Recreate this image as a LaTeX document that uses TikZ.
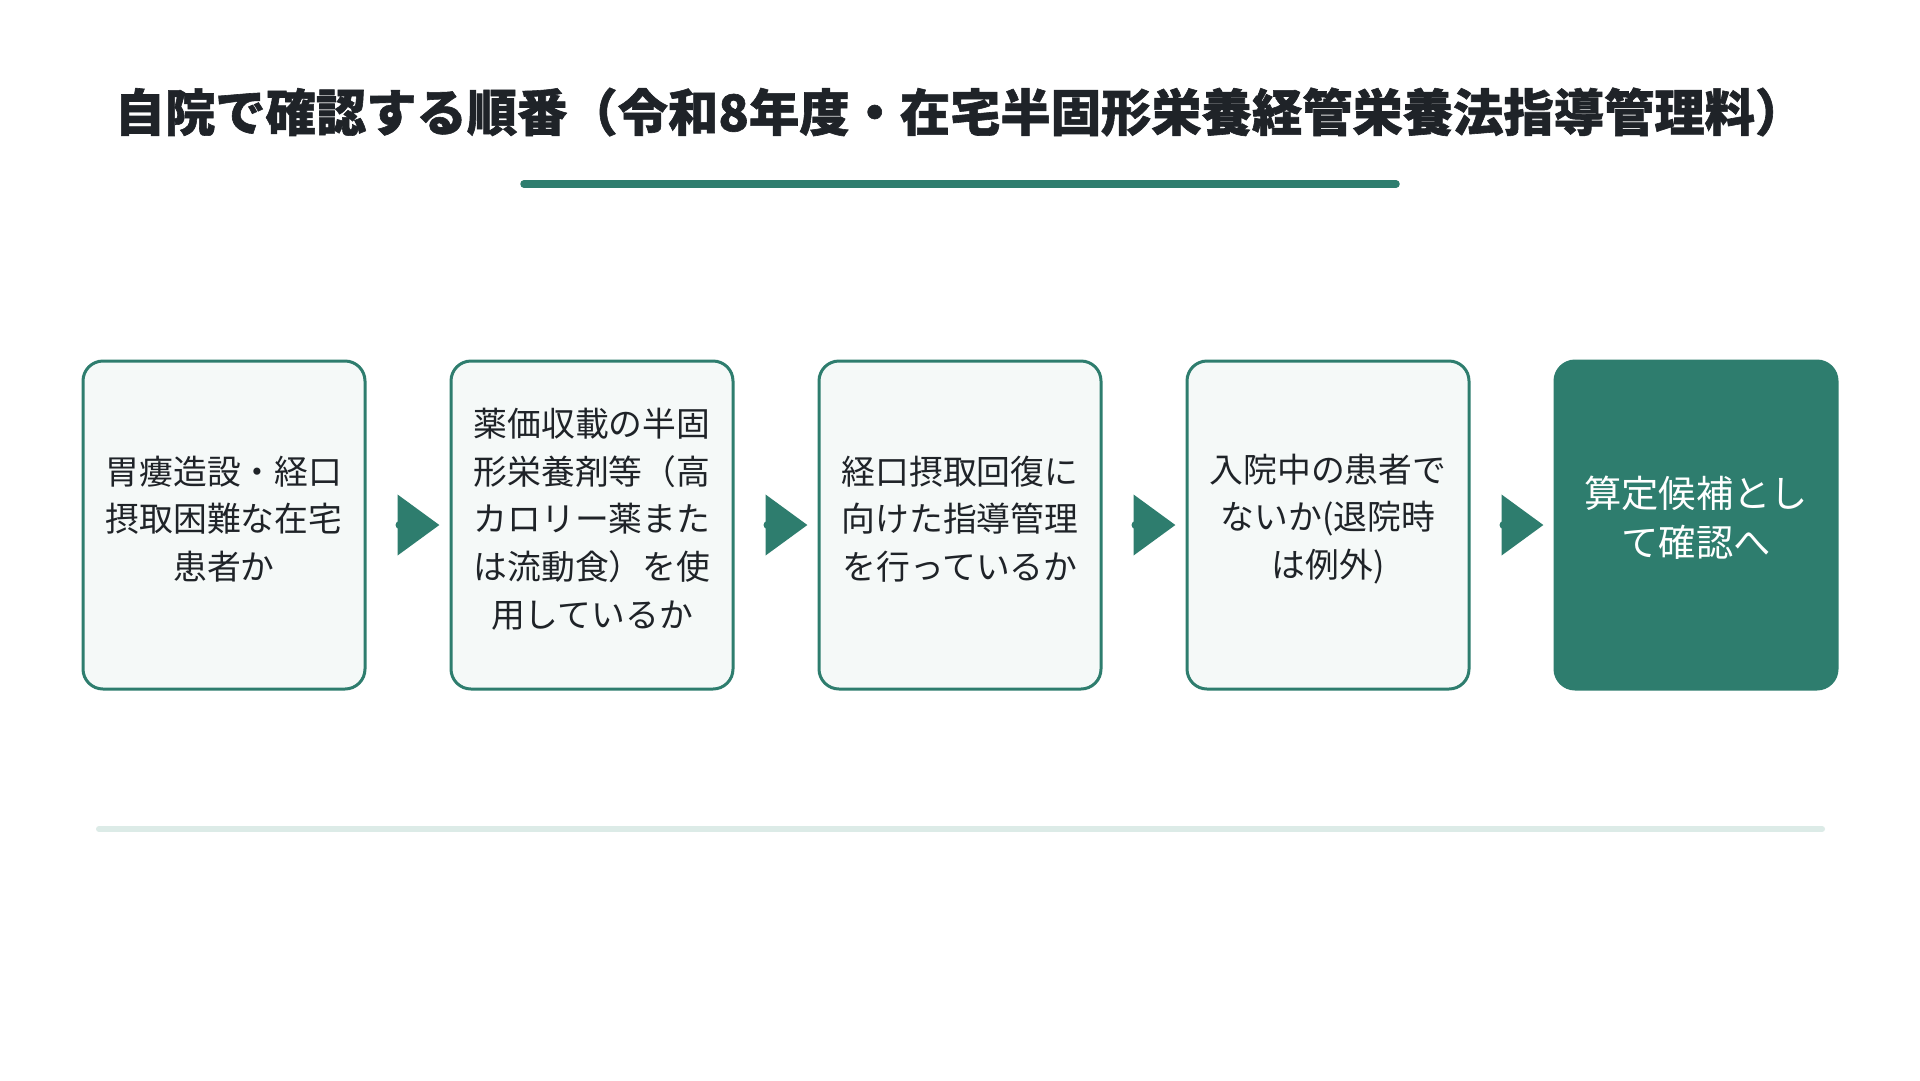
\documentclass[tikz,border=0pt]{standalone}
\usepackage{fontspec}
\setmainfont{Noto Sans CJK JP}
\newfontfamily\cjk{Noto Sans CJK JP}
\newfontfamily\cjktitle[BoldFeatures={FakeBold=1.2}]{Noto Sans CJK JP}
\usetikzlibrary{arrows.meta}
\definecolor{teal}{RGB}{46,125,110}
\definecolor{lightfill}{RGB}{245,249,248}
\definecolor{lightline}{RGB}{220,235,231}
\definecolor{ink}{RGB}{31,35,40}
\tikzset{
  stepbox/.style={draw=teal, line width=3pt, fill=lightfill, rounded corners=20pt,
    minimum width=282pt, minimum height=328pt, inner sep=0pt},
  finalbox/.style={draw=teal, line width=3pt, fill=teal, rounded corners=20pt,
    minimum width=282pt, minimum height=328pt, inner sep=0pt},
  steptext/.style={text=ink, align=center, inner sep=0pt,
    font=\cjk\fontsize{33.8pt}{47.7pt}\selectfont},
  finaltext/.style={text=white, align=center, inner sep=0pt,
    font=\cjk\fontsize{37.3pt}{49pt}\selectfont},
  flowarrow/.style={draw=teal, line width=8pt, line cap=round,
    -{Triangle[length=42pt,width=59pt]}, shorten <=33pt, shorten >=10pt},
  titletext/.style={text=ink, font=\cjktitle\bfseries\fontsize{50.3pt}{60pt}\selectfont, inner sep=0pt},
}
\begin{document}
\begin{tikzpicture}[x=1pt,y=-1pt]
\fill[white] (0,0) rectangle (1920,1080);
\useasboundingbox (0,0) rectangle (1920,1080);

\node[titletext] (title) at (960,112) {自院で確認する順番（令和8年度・在宅半固形栄養経管栄養法指導管理料）};
\coordinate (ulL) at (524,184);
\coordinate (ulR) at (1396,184);
\draw[teal, line width=7.5pt, line cap=round] (ulL) -- (ulR);

\node[stepbox] (b1) at (224,525) {};
\node[stepbox] (b2) at (592,525) {};
\node[stepbox] (b3) at (960,525) {};
\node[stepbox] (b4) at (1328,525) {};
\node[finalbox] (b5) at (1696,525) {};

\node[steptext] (t1) at ([yshift=6pt]b1.center) {胃瘻造設・経口\\摂取困難な在宅\\患者か};
\node[steptext] (t2) at ([yshift=6pt]b2.center) {薬価収載の半固\\形栄養剤等（高\\カロリー薬また\\は流動食）を使\\用しているか};
\node[steptext] (t3) at ([yshift=6pt]b3.center) {経口摂取回復に\\向けた指導管理\\を行っているか};
\node[steptext] (t4) at ([yshift=6pt]b4.center) {入院中の患者で\\ないか(退院時\\は例外)};
\node[finaltext] (t5) at ([yshift=7pt]b5.center) {算定候補とし\\て確認へ};

\draw[flowarrow] (b1.east) -- (b2.west);
\draw[flowarrow] (b2.east) -- (b3.west);
\draw[flowarrow] (b3.east) -- (b4.west);
\draw[flowarrow] (b4.east) -- (b5.west);

\coordinate (blL) at (99,829);
\coordinate (blR) at (1822,829);
\draw[lightline, line width=6pt, line cap=round] (blL) -- (blR);
\end{tikzpicture}
\end{document}
